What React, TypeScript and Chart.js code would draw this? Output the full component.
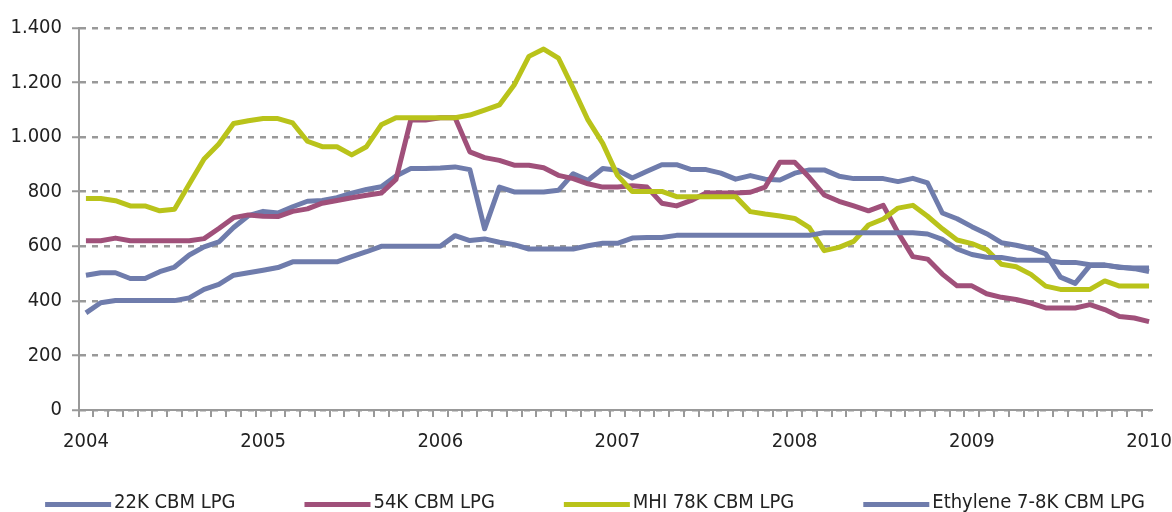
import React, { useEffect, useRef } from 'react';
import { Chart, registerables } from 'chart.js';

Chart.register(...registerables);

const FONT = '"DejaVu Sans Condensed", "DejaVu Sans", sans-serif';

const yearLabels = ['2004', '2005', '2006', '2007', '2008', '2009', '2010'];
const seriesNames = ['22K CBM LPG', '54K CBM LPG', 'MHI 78K CBM LPG', 'Ethylene 7-8K CBM LPG'];
const seriesColors = ['#6F7CAC', '#A0507A', '#B9C31A', '#6F7CAC'];

// monthly values, Jan 2004 .. Jan 2010
const lpg22k = [
  494, 503, 503, 482, 482, 507, 524, 568, 598, 616, 669, 712,
  728, 722, 745, 765, 768, 778, 795, 808, 818, 858, 885, 885,
  887, 891, 881, 664, 817, 799, 799, 799, 805, 866, 842, 885,
  879, 850, 875, 899, 899, 881, 881, 868, 846, 859, 846, 843,
  868, 880, 880, 857, 848, 848, 848, 837, 849, 832, 722, 701,
  672, 646, 613, 604, 592, 572, 487, 464, 530, 530, 524, 518,
  507,
];
const lpg54k = [
  620, 620, 630, 620, 620, 620, 620, 620, 628, 665, 705, 715,
  710, 709, 728, 737, 758, 768, 778, 787, 795, 845, 1063, 1063,
  1071, 1071, 946, 925, 915, 897, 897, 888, 860, 848, 829, 817,
  817, 822, 817, 758, 748, 768, 795, 795, 795, 798, 817, 908,
  908, 852, 788, 765, 748, 730, 750, 650, 562, 553, 498, 455,
  455, 426, 413, 405, 392, 374, 374, 374, 386, 368, 343, 337,
  324,
];
const mhi78k = [
  775, 775, 767, 748, 748, 730, 736, 828, 920, 975, 1050, 1060,
  1068, 1068, 1052, 985, 965, 965, 935, 965, 1045, 1071, 1071, 1071,
  1071, 1071, 1081, 1099, 1118, 1191, 1296, 1323, 1290, 1179, 1063, 977,
  860, 801, 801, 801, 782, 782, 782, 782, 782, 727, 718, 711,
  702, 668, 584, 596, 618, 678, 700, 740, 750, 710, 664, 623,
  610, 588, 534, 525, 497, 454, 442, 442, 442, 473, 454, 454,
  454,
];
const ethylene = [
  356, 393, 401, 401, 401, 401, 401, 411, 442, 460, 494, 503,
  512, 522, 543, 543, 543, 543, 562, 580, 600, 600, 600, 600,
  600, 639, 621, 627, 615, 606, 590, 590, 590, 590, 602, 611,
  611, 630, 632, 632, 640, 640, 640, 640, 640, 640, 640, 640,
  640, 640, 650, 650, 650, 650, 650, 650, 650, 645, 625, 590,
  570, 560, 559, 550, 549, 549, 541, 541, 532, 532, 522, 520,
  520,
];
const allSeries = [lpg22k, lpg54k, mhi78k, ethylene];
const yTickValues = [0, 200, 400, 600, 800, 1000, 1200, 1400];

const fmtThousands = (v: number) =>
  v >= 1000 ? `${Math.floor(v / 1000)}.${String(v % 1000).padStart(3, '0')}` : String(v);

const bottomLegend = {
  id: 'bottomLegend',
  afterDraw(chart: any) {
    const ctx = chart.ctx as CanvasRenderingContext2D;
    ctx.save();
    ctx.font = `20px ${FONT}`;
    ctx.textBaseline = 'middle';
    const sw = 66;
    const gap = 3;
    const spacing = 69;
    const items = chart.data.datasets.map((ds: any) => ({
      label: ds.label as string,
      color: ds.borderColor as string,
      w: ctx.measureText(ds.label).width,
    }));
    const total = items.reduce((s: number, it: any) => s + sw + gap + it.w, 0) + spacing * (items.length - 1);
    let x = 595 - total / 2;
    const y = 502;
    items.forEach((it: any) => {
      ctx.fillStyle = it.color;
      ctx.fillRect(x, y, sw, 5);
      ctx.fillStyle = '#222';
      ctx.fillText(it.label, x + sw + gap, y + 1);
      x += sw + gap + it.w + spacing;
    });
    ctx.restore();
  },
};

const noSidePadding = (scale: any) => {
  scale.paddingLeft = 0;
  scale.paddingRight = 0;
};

export default function App() {
  const ref = useRef<HTMLCanvasElement | null>(null);
  useEffect(() => {
    document.body.style.margin = '0';
    const canvas = ref.current;
    if (!canvas) return;
    const datasets = allSeries.map((arr, s) => ({
      label: seriesNames[s],
      data: arr.map((v, i) => ({ x: i, y: v })),
      borderColor: seriesColors[s],
      backgroundColor: seriesColors[s],
      borderWidth: 5,
      pointRadius: 0,
      tension: 0,
      borderJoinStyle: 'round' as const,
      order: allSeries.length - s,
    }));
    const chart = new Chart(canvas, {
      type: 'line',
      data: { datasets },
      plugins: [bottomLegend],
      options: {
        responsive: false,
        animation: false,
        events: [],
        layout: { padding: { left: 0, right: 20, top: 28, bottom: 50 } },
        plugins: { legend: { display: false }, tooltip: { enabled: false } },
        scales: {
          xm: {
            type: 'linear',
            position: 'bottom',
            weight: 0,
            min: -0.47,
            max: 72.2,
            afterBuildTicks: (scale: any) => {
              const t = [];
              for (let k = 0; k <= 72; k++) t.push({ value: k - 0.5 });
              scale.ticks = t;
            },
            afterFit: noSidePadding,
            ticks: { display: false },
            grid: { drawOnChartArea: false, drawTicks: true, tickLength: 7, color: '#999', lineWidth: 2 },
            border: { display: true, color: '#999', width: 2 },
          },
          x: {
            type: 'linear',
            position: 'bottom',
            weight: 1,
            min: -0.47,
            max: 72.2,
            afterBuildTicks: (scale: any) => {
              scale.ticks = yearLabels.map((_, k) => ({ value: k * 12 }));
            },
            afterFit: (scale: any) => {
              scale.height = 45;
              noSidePadding(scale);
            },
            ticks: {
              autoSkip: false,
              maxRotation: 0,
              padding: 13,
              color: '#222',
              font: { family: FONT, size: 20 },
              callback: (v: any) => yearLabels[Math.round(Number(v) / 12)] ?? '',
            },
            grid: { display: false, drawTicks: false },
            border: { display: false },
          },
          y: {
            type: 'linear',
            min: 0,
            max: 1400,
            afterBuildTicks: (scale: any) => {
              scale.ticks = yTickValues.map((v) => ({ value: v }));
            },
            afterFit: (scale: any) => {
              scale.width = 79;
              scale.paddingTop = 0;
              scale.paddingBottom = 0;
            },
            ticks: {
              padding: 10,
              color: '#222',
              font: { family: FONT, size: 20 },
              callback: (v: any) => fmtThousands(Number(v)),
            },
            grid: { color: '#999', lineWidth: 2.5, tickLength: 7, tickColor: '#999', tickWidth: 2 },
            border: { display: true, color: '#999', width: 2, dash: [6, 6] },
          },
        },
      },
    });
    return () => chart.destroy();
  }, []);
  return <canvas ref={ref} width={1172} height={512} style={{ display: 'block' }} />;
}
